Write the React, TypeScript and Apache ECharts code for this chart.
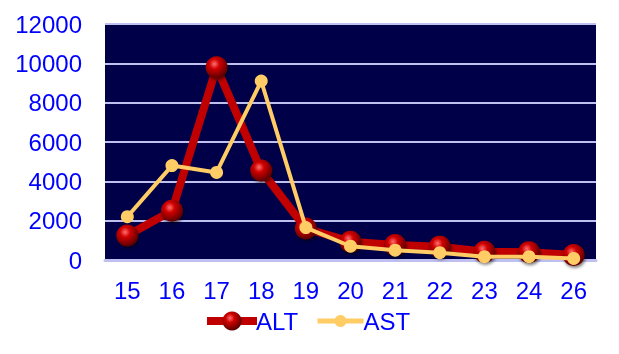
import React, { useEffect, useRef } from "react";
import * as echarts from "echarts";

const categories = ["15", "16", "17", "18", "19", "20", "21", "22", "23", "24", "26"];
const altValues = [1250, 2500, 9800, 4550, 1600, 930, 760, 680, 420, 400, 250];
const astValues = [2200, 4800, 4450, 9100, 1650, 700, 500, 370, 170, 170, 80];

export default function App() {
  const ref = useRef<HTMLDivElement>(null);
  useEffect(() => {
    if (!ref.current) return;
    const chart = echarts.init(ref.current, null, { renderer: "svg" });
    const sphere = {
      type: "radial",
      x: 0.4,
      y: 0.35,
      r: 0.65,
      colorStops: [
        { offset: 0, color: "#ff7070" },
        { offset: 0.35, color: "#d00000" },
        { offset: 1, color: "#5a0000" },
      ],
    };
    const font = "Liberation Sans, Arial, sans-serif";
    chart.setOption({
      animation: false,
      textStyle: { fontFamily: font },
      grid: {
        left: 105,
        right: 23,
        top: 24,
        bottom: 94,
        show: true,
        backgroundColor: "#000048",
        borderWidth: 0,
      },
      xAxis: {
        type: "category",
        data: categories,
        boundaryGap: true,
        axisLine: { show: true, lineStyle: { color: "#c0c0f0", width: 3 } },
        axisTick: { show: false },
        axisLabel: { color: "#0000ff", fontSize: 24, margin: 18, fontFamily: font },
      },
      yAxis: {
        type: "value",
        min: 0,
        max: 12000,
        interval: 2000,
        axisLine: { show: false },
        axisTick: { show: false },
        axisLabel: {
          color: "#0000ff",
          fontSize: 24,
          margin: 23,
          fontFamily: font,
          formatter: (v: number) => String(v),
        },
        splitLine: { show: true, lineStyle: { color: "#c0c0f0", width: 2 } },
      },
      legend: [
        {
          left: 203,
          top: 309,
          padding: 0,
          itemWidth: 50,
          itemHeight: 24,
          itemGap: 0,
          textStyle: { color: "#0000ff", fontSize: 24, fontFamily: font, padding: [0, 0, 0, -6] },
          data: [{ name: "ALT", lineStyle: { width: 8, color: "#c00000" } }],
        },
        {
          left: 315,
          top: 309,
          padding: 0,
          itemWidth: 46,
          itemHeight: 15,
          itemGap: 0,
          textStyle: { color: "#0000ff", fontSize: 24, fontFamily: font, padding: [0, 0, 0, -5] },
          data: [{ name: "AST", lineStyle: { width: 5, color: "#ffcc66" } }],
        },
      ],
      series: [
        {
          name: "ALT",
          type: "line",
          data: altValues,
          symbol: "circle",
          symbolSize: 22,
          lineStyle: { color: "#c00000", width: 8 },
          itemStyle: {
            color: sphere,
            shadowColor: "rgba(0,0,0,0.5)",
            shadowBlur: 3,
            shadowOffsetX: 1,
            shadowOffsetY: 2,
          },
          z: 2,
        },
        {
          name: "AST",
          type: "line",
          data: astValues,
          symbol: "circle",
          symbolSize: 13,
          lineStyle: { color: "#ffcc66", width: 4 },
          itemStyle: { color: "#ffcc66" },
          z: 3,
        },
      ],
    });
    return () => chart.dispose();
  }, []);
  return (
    <div
      ref={ref}
      style={{ position: "fixed", left: 0, top: 0, width: 619, height: 354 }}
    />
  );
}
